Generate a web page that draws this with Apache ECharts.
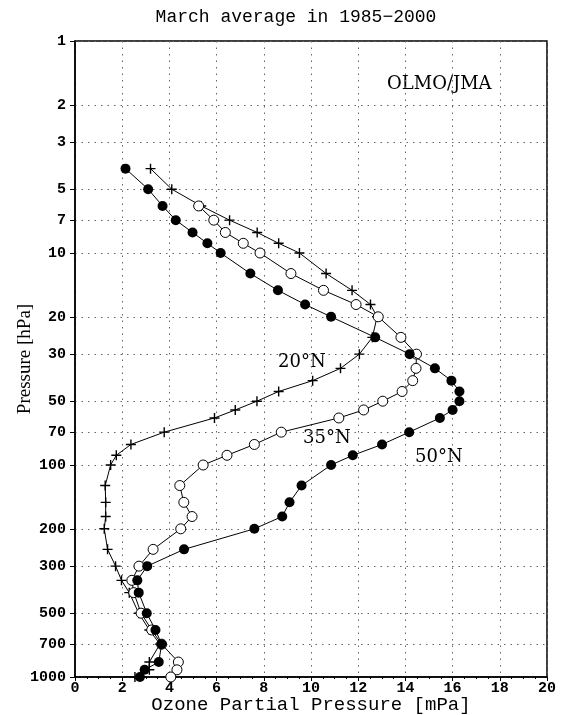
<!DOCTYPE html>
<html>
<head>
<meta charset="utf-8">
<script src="https://cdn.jsdelivr.net/npm/echarts@6/dist/echarts.min.js"></script>
<style>html,body{margin:0;padding:0;background:#fff}#c{width:561px;height:715px}</style>
</head>
<body>
<div id="c"></div>
<script>
// ---- data ----
const yTickValues = [1, 2, 3, 5, 7, 10, 20, 30, 50, 70, 100, 200, 300, 500, 700, 1000];
const xTickMax = 20;

const levels20N = [4, 5, 6, 7, 8, 9, 10, 12.5, 15, 17.5, 20, 25, 30, 35, 40, 45, 50, 55, 60, 70, 80, 90, 100, 125, 150, 175, 200, 250, 300, 350, 400, 500, 600, 700, 850, 925, 1000];
const ozone20N  = [3.2, 4.1, 5.35, 6.55, 7.72, 8.63, 9.51, 10.64, 11.74, 12.52, 12.8, 12.6, 12.05, 11.25, 10.07, 8.63, 7.71, 6.79, 5.91, 3.78, 2.37, 1.75, 1.51, 1.28, 1.30, 1.30, 1.24, 1.38, 1.72, 1.97, 2.30, 2.70, 3.15, 3.60, 3.15, 3.15, 2.54];

const levels35N = [6, 7, 8, 9, 10, 12.5, 15, 17.5, 20, 25, 30, 35, 40, 45, 50, 55, 60, 70, 80, 90, 100, 125, 150, 175, 200, 250, 300, 350, 400, 500, 600, 700, 850, 925, 1000];
const ozone35N  = [5.24, 5.88, 6.37, 7.13, 7.84, 9.15, 10.53, 11.91, 12.85, 13.81, 14.47, 14.45, 14.31, 13.86, 13.04, 12.23, 11.18, 8.74, 7.60, 6.44, 5.43, 4.44, 4.61, 4.96, 4.48, 3.31, 2.71, 2.41, 2.49, 2.80, 3.25, 3.67, 4.38, 4.32, 4.06];

const levels50N = [4, 5, 6, 7, 8, 9, 10, 12.5, 15, 17.5, 20, 25, 30, 35, 40, 45, 50, 55, 60, 70, 80, 90, 100, 125, 150, 175, 200, 250, 300, 350, 400, 500, 600, 700, 850, 925, 1000];
const ozone50N  = [2.14, 3.10, 3.71, 4.27, 4.98, 5.61, 6.17, 7.43, 8.60, 9.75, 10.85, 12.72, 14.18, 15.25, 15.95, 16.29, 16.29, 16.00, 15.46, 14.16, 13.01, 11.77, 10.85, 9.60, 9.09, 8.78, 7.60, 4.62, 3.06, 2.64, 2.70, 3.04, 3.41, 3.67, 3.55, 2.95, 2.75];

const titleText = 'March average in 1985\u22122000';
const xTitle = 'Ozone Partial Pressure [mPa]';
const yTitle = 'Pressure [hPa]';
const sourceText = 'OLMO/JMA';
const seriesNames = ['20\u00b0N', '35\u00b0N', '50\u00b0N'];

// ---- chart ----
const pair = (vals, lev) => vals.map((v, i) => [v, lev[i]]);
const chart = echarts.init(document.getElementById('c'), null, {renderer: 'canvas'});
const dotted = {show: true, lineStyle: {color: '#666', width: 1, type: [1.5, 5]}};
const tickFont = {fontFamily: 'Liberation Mono', fontWeight: 'bold', fontSize: 15, color: '#000'};
const plus = 'path://M4.3,0H5.7V4.3H10V5.7H5.7V10H4.3V5.7H0V4.3H4.3Z';

chart.setOption({
  animation: false,
  backgroundColor: '#fff',
  title: {
    text: titleText, left: 291, top: 3, textAlign: 'center',
    textStyle: {fontFamily: 'Liberation Mono', fontSize: 18, fontWeight: 'normal', color: '#000'}
  },
  grid: {left: 75, right: 14, top: 41, bottom: 38, containLabel: false, outerBoundsMode: 'none',
         show: true, borderColor: '#000', borderWidth: 1.5, backgroundColor: 'transparent'},
  xAxis: {
    type: 'value', min: 0, max: xTickMax, interval: 2,
    name: xTitle, nameLocation: 'middle', nameGap: 28, nameMoveOverlap: false,
    nameTextStyle: {fontFamily: 'Liberation Mono', fontSize: 19, color: '#000', verticalAlign: 'middle'},
    axisLine: {show: true, onZero: false, lineStyle: {color: '#000', width: 1.5}},
    axisTick: {show: true, length: 4, lineStyle: {color: '#000'}},
    minorTick: {show: true, splitNumber: 4, length: 2, lineStyle: {color: '#000'}},
    axisLabel: Object.assign({margin: 4, formatter: v => String(v)}, tickFont),
    splitLine: dotted
  },
  yAxis: {
    type: 'log', logBase: 10, min: 1, max: 1000, inverse: true,
    name: yTitle, nameLocation: 'middle', nameGap: 50, nameRotate: 90, nameMoveOverlap: false,
    nameTextStyle: {fontFamily: 'Liberation Serif', fontSize: 19, color: '#000', verticalAlign: 'middle'},
    axisLine: {show: true, lineStyle: {color: '#000', width: 1.5}},
    axisTick: {show: true, length: 5, lineStyle: {color: '#000'}, customValues: yTickValues},
    axisLabel: Object.assign({margin: 9, customValues: yTickValues, formatter: v => String(v)}, tickFont),
    splitLine: dotted
  },
  series: [
    {
      name: seriesNames[0], type: 'line', data: pair(ozone20N, levels20N),
      symbol: plus, symbolSize: 10, z: 3,
      lineStyle: {color: '#000', width: 1}, itemStyle: {color: '#000'}
    },
    {
      name: seriesNames[1], type: 'line', data: pair(ozone35N, levels35N),
      symbol: 'circle', symbolSize: 10, z: 4, showAllSymbol: true,
      lineStyle: {color: '#000', width: 1}, itemStyle: {color: '#fff', borderColor: '#000', borderWidth: 1}
    },
    {
      name: seriesNames[2], type: 'line', data: pair(ozone50N, levels50N),
      symbol: 'circle', symbolSize: 10, z: 5, showAllSymbol: true,
      lineStyle: {color: '#000', width: 1}, itemStyle: {color: '#000'}
    }
  ],
  graphic: [
    {type: 'text', left: 278, top: 353, style: {text: seriesNames[0], fontFamily: 'DejaVu Serif', fontSize: 18, fill: '#000'}},
    {type: 'text', left: 303, top: 429, style: {text: seriesNames[1], fontFamily: 'DejaVu Serif', fontSize: 18, fill: '#000'}},
    {type: 'text', left: 415, top: 448, style: {text: seriesNames[2], fontFamily: 'DejaVu Serif', fontSize: 18, fill: '#000'}},
    {type: 'text', left: 387, top: 75, style: {text: sourceText, fontFamily: 'DejaVu Serif', fontSize: 18, fill: '#000'}}
  ]
});
</script>
</body>
</html>
